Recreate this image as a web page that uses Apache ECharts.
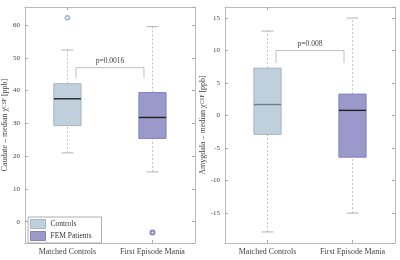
<!DOCTYPE html>
<html>
<head>
<meta charset="utf-8">
<script src="https://cdn.jsdelivr.net/npm/echarts@6/dist/echarts.min.js"></script>
<style>
  html, body { margin: 0; padding: 0; background: #fff; }
  #chart { width: 400px; height: 260px; }
</style>
</head>
<body>
<div id="chart"></div>
<script>
// box stats: [min whisker, Q1, median, Q3, max whisker]
const groups = ['Matched Controls', 'First Episode Mania'];
const caudateControls = [21.0, 29.3, 37.5, 42.1, 52.4];
const caudateFem = [15.2, 25.4, 31.8, 39.4, 59.5];
const amygControls = [-17.9, -2.9, 1.7, 7.3, 13.0];
const amygFem = [-15.0, -6.4, 0.8, 3.3, 15.0];
const caudateOutliers = [[0, 62.2], [1, -3.3]];
// bracket: [text, top y, leg end y]
const caudateP = ['p=0.0016', 47.0, 43.9];
const amygP = ['p=0.008', 10.0, 8.1];

const FONT = 'Liberation Serif';
const ctrlFill = '#c0cfdc', ctrlBorder = '#a6b6c5';
const femFill = '#9b98ca', femBorder = '#8682bc';

let myChart = echarts.init(document.getElementById('chart'));

function boxRender (medColor) {
    return function (params, api) {
        const idx = api.value(0);
        const cx = api.coord([idx, 0])[0];
        const bw = api.size([1, 0])[0];
        const half = bw * 0.16;
        const cap = bw * 0.07;
        const y = [1, 2, 3, 4, 5].map(i => api.coord([idx, api.value(i)])[1]);
        const wStyle = { stroke: '#b5b5b5', lineWidth: 0.8, lineDash: [2, 2] };
        const cStyle = { stroke: '#a0a0a0', lineWidth: 0.8 };
        const fill = api.visual('color');
        return {
            type: 'group',
            children: [
                { type: 'line', shape: { x1: cx, y1: y[3], x2: cx, y2: y[4] }, style: wStyle },
                { type: 'line', shape: { x1: cx, y1: y[0], x2: cx, y2: y[1] }, style: wStyle },
                { type: 'line', shape: { x1: cx - cap, y1: y[4], x2: cx + cap, y2: y[4] }, style: cStyle },
                { type: 'line', shape: { x1: cx - cap, y1: y[0], x2: cx + cap, y2: y[0] }, style: cStyle },
                {
                    type: 'rect',
                    shape: { x: cx - half, y: y[3], width: half * 2, height: y[1] - y[3] },
                    style: { fill: fill, stroke: params.seriesName === 'Controls' ? ctrlBorder : femBorder, lineWidth: 1 }
                },
                { type: 'line', shape: { x1: cx - half, y1: y[2], x2: cx + half, y2: y[2] }, style: { stroke: medColor, lineWidth: 1.4 } }
            ]
        };
    };
}

function bracketRender (p) {
    return function (params, api) {
        const bw = api.size([1, 0])[0];
        const x0 = api.coord([0, 0])[0] + bw * 0.1;
        const x1 = api.coord([1, 0])[0] - bw * 0.1;
        const yt = api.coord([0, api.value(1)])[1];
        const yl = api.coord([0, api.value(2)])[1];
        const st = { stroke: '#b0b0b0', lineWidth: 0.8, fill: null };
        return {
            type: 'group',
            children: [
                { type: 'polyline', shape: { points: [[x0, yl], [x0, yt], [x1, yt], [x1, yl]] }, style: st },
                {
                    type: 'text', x: (x0 + x1) / 2, y: yt - 3,
                    style: { text: p[0], fontFamily: FONT, fontSize: 7.5, fill: '#444', align: 'center', verticalAlign: 'bottom' }
                }
            ]
        };
    };
}

function yAxisFor (gi, name, min, max) {
    return [{
        type: 'value', gridIndex: gi, min: min, max: max, splitNumber: 7,
        name: name, nameLocation: 'middle', nameGap: gi === 0 ? 15 : 17,
        nameTextStyle: { fontFamily: FONT, fontSize: 8, color: '#444', rich: { sub: { fontFamily: FONT, fontSize: 5.5, color: '#444' } } },
        axisLine: { show: true, onZero: false, lineStyle: { color: '#bbb' } },
        axisTick: { show: true, inside: true, length: 3, lineStyle: { color: '#aaa' } },
        axisLabel: { fontFamily: FONT, fontSize: 7, color: '#444', margin: 5, showMinLabel: false, showMaxLabel: false },
        splitLine: { show: false }
    }, {
        type: 'value', gridIndex: gi, min: min, max: max, splitNumber: 7, position: 'right',
        axisLine: { show: true, onZero: false, lineStyle: { color: '#bbb' } },
        axisTick: { show: true, inside: true, length: 3, lineStyle: { color: '#aaa' } },
        axisLabel: { show: false },
        splitLine: { show: false }
    }];
}

function xAxisFor (gi) {
    return [{
        type: 'category', gridIndex: gi, data: groups,
        axisLine: { show: true, onZero: false, lineStyle: { color: '#bbb' } },
        axisTick: { show: true, inside: true, length: 3, alignWithLabel: true, lineStyle: { color: '#aaa' } },
        axisLabel: { fontFamily: FONT, fontSize: 8, color: '#444', margin: 5 }
    }, {
        type: 'category', gridIndex: gi, data: groups, position: 'top',
        axisLine: { show: true, onZero: false, lineStyle: { color: '#bbb' } },
        axisTick: { show: true, inside: true, length: 3, alignWithLabel: true, lineStyle: { color: '#aaa' } },
        axisLabel: { show: false }
    }];
}

var option = {
    animation: false,
    backgroundColor: '#fff',
    grid: [
        { left: 24, right: 205, top: 7, bottom: 17 },
        { left: 225, right: 5, top: 7, bottom: 17 }
    ],
    xAxis: [...xAxisFor(0), ...xAxisFor(1)],
    yAxis: [
        ...yAxisFor(0, 'Caudate – median χ{sub|CSF} [ppb]', -6.5, 65.5),
        ...yAxisFor(1, 'Amygdala – median χ{sub|CSF} [ppb]', -19.6, 16.7)
    ],
    legend: {
        left: 28, top: 217, orient: 'vertical',
        itemWidth: 15, itemHeight: 9, itemGap: 2,
        padding: [2, 10, 2, 2],
        borderColor: '#999', borderWidth: 0.8, backgroundColor: '#fff',
        textStyle: { fontFamily: FONT, fontSize: 7.5, color: '#333' },
        data: [
            { name: 'Controls', icon: 'rect', itemStyle: { color: ctrlFill, borderColor: ctrlBorder, borderWidth: 1 } },
            { name: 'FEM Patients', icon: 'rect', itemStyle: { color: femFill, borderColor: femBorder, borderWidth: 1 } }
        ]
    },
    series: [
        { name: 'Controls', type: 'custom', xAxisIndex: 0, yAxisIndex: 0, itemStyle: { color: ctrlFill },
          renderItem: boxRender('#222'), data: [[0, ...caudateControls]] },
        { name: 'FEM Patients', type: 'custom', xAxisIndex: 0, yAxisIndex: 0, itemStyle: { color: femFill },
          renderItem: boxRender('#222'), data: [[1, ...caudateFem]] },
        { name: 'Controls', type: 'custom', xAxisIndex: 2, yAxisIndex: 2, itemStyle: { color: ctrlFill },
          renderItem: boxRender('#6e7c8a'), data: [[0, ...amygControls]] },
        { name: 'FEM Patients', type: 'custom', xAxisIndex: 2, yAxisIndex: 2, itemStyle: { color: femFill },
          renderItem: boxRender('#222'), data: [[1, ...amygFem]] },
        { name: 'outliers', type: 'scatter', xAxisIndex: 0, yAxisIndex: 0, symbol: 'emptyCircle', symbolSize: 4,
          itemStyle: { color: function (p) { return p.data[0] === 0 ? '#9fb3c8' : '#6a64b8'; }, borderWidth: 1 },
          data: caudateOutliers },
        { name: 'p1', type: 'custom', xAxisIndex: 0, yAxisIndex: 0, renderItem: bracketRender(caudateP),
          data: [[0, caudateP[1], caudateP[2]]] },
        { name: 'p2', type: 'custom', xAxisIndex: 2, yAxisIndex: 2, renderItem: bracketRender(amygP),
          data: [[0, amygP[1], amygP[2]]] }
    ]
};

option && myChart.setOption(option);
</script>
</body>
</html>
